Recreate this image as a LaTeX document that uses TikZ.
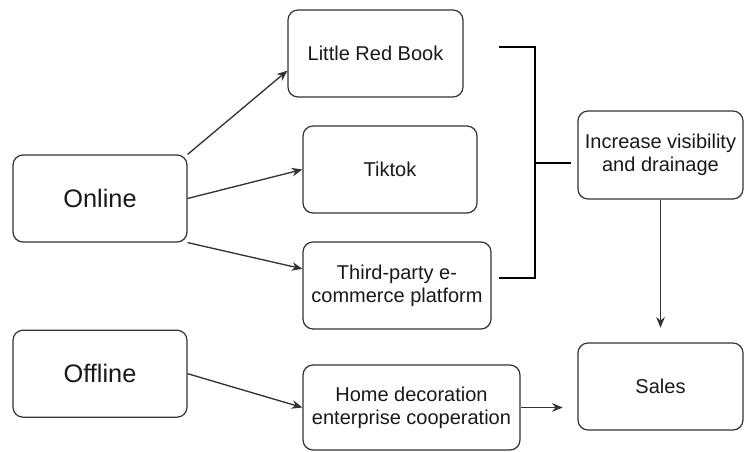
\documentclass[tikz,border=0pt]{standalone}
\usepackage{fontspec}
\setmainfont{Liberation Sans}
\usetikzlibrary{arrows.meta}
\usetikzlibrary{positioning}

\begin{document}
\begin{tikzpicture}[x=0.75pt,y=-0.75pt,->,>={Stealth[length=8pt,width=6.5pt]},
	thin,draw=black!80,
	main node/.style={rectangle,rounded corners=7.5pt,draw=black!80,line width=0.9pt,fill=white,
		align=center,inner sep=2pt,minimum height=65.25pt,text=black!90,font=\fontsize{15}{17}\selectfont},
	big node/.style={main node,minimum width=130.5pt,font=\fontsize{19}{22}\selectfont},
	bracket/.style={-,draw=black,line width=1.8pt}]

	\useasboundingbox (0,0) rectangle (744,452);

	\node[big node] (on) at (100,198.5) {Online};
	\node[big node] (off) [below=65.25pt of on] {Offline};

	\node[main node,minimum width=131.25pt] (lrb) at (375.5,53.5) {Little Red Book};
	\node[main node,minimum width=130.5pt] (tt) at (390,169.5) {Tiktok};
	\node[main node,minimum width=141pt] (tp) at (397,285.5) {Third-party e-\\commerce platform};
	\node[main node,minimum width=162.75pt,minimum height=63.75pt] (hd) at (411.5,407.5) {Home decoration\\enterprise cooperation};

	\node[main node,minimum width=123.75pt,minimum height=66pt] (inc) at (660.5,155) {Increase visibility\\and drainage};
	\node[main node,minimum width=123.75pt] (sal) at (660.5,386.5) {Sales};

	% bracket joining the three online channels
	\coordinate (bt) at (499,47);
	\coordinate (bb) at (499,278);
	\coordinate (jn) at (535,163);
	\coordinate (bm) at (571,163);
	\draw[bracket] (bt) -| (jn) |- (bb);
	\draw[bracket] (jn) -- (bm);

	\path[line width=1pt]
		(on.north east) edge (lrb.191)
		(on.east) edge (tt.west)
		(on.south east) edge (tp.170)
		(off.east) edge (hd.west)
		(hd.east) edge [shorten >=11pt] (hd.east -| sal.west)
		(inc.south) edge [shorten >=11pt] (sal.north);

\end{tikzpicture}
\end{document}
